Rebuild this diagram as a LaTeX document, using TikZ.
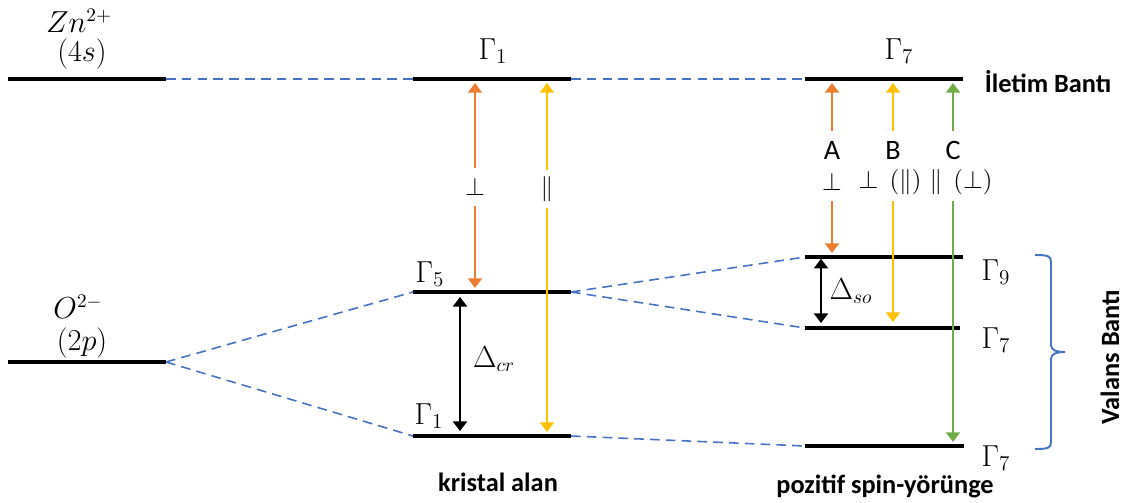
\documentclass[tikz,border=0pt]{standalone}
\usepackage[no-math]{fontspec}
\setmainfont{Carlito}
\usetikzlibrary{arrows.meta}
\definecolor{lnblue}{HTML}{4472C4}
\definecolor{orng}{HTML}{ED7D31}
\definecolor{ylw}{HTML}{FFC000}
\definecolor{grn}{HTML}{70AD47}
\tikzset{
  lvl/.style={line width=2.3pt},
  link/.style={draw=lnblue,line width=0.9pt,dash pattern=on 5.5pt off 3.5pt},
  tr/.style={->,line width=1.1pt,shorten >=2.3pt},
  dlt/.style={<->,line width=1.1pt,shorten >=2.8pt,shorten <=2.8pt},
  gl/.style={font=\fontsize{17}{20}\selectfont},
  ml/.style={font=\fontsize{16}{19}\selectfont},
  ab/.style={font=\fontsize{15}{18}\selectfont,minimum height=0.76cm,inner sep=0pt},
  bl/.style={font=\fontsize{15}{18}\selectfont\bfseries},
}
\begin{document}
\begin{tikzpicture}[x=0.02cm,y=-0.02cm,>={Triangle[length=5.5pt,width=8pt]}]
\useasboundingbox (0,0) rectangle (1125,503);
\coordinate (znL) at (8,79);    \coordinate (znR) at (166,79);
\coordinate (oL) at (8,362);    \coordinate (oR) at (166,362);
\coordinate (c1L) at (413,79);  \coordinate (c1R) at (571,79);
\coordinate (c5L) at (413,292); \coordinate (c5R) at (571,292);
\coordinate (cbL) at (413,436); \coordinate (cbR) at (571,436);
\coordinate (s7L) at (805,79);  \coordinate (s7R) at (963,79);
\coordinate (s9L) at (805,257); \coordinate (s9R) at (963,257);
\coordinate (smL) at (805,328); \coordinate (smR) at (960,328);
\coordinate (sbL) at (805,446); \coordinate (sbR) at (964,446);
\node[ml] (zn) at (79,21) {$Zn^{2+}$};
\node[ml] (zns) at (82,54) {$(4s)$};
\node[ml] (ox) at (78,307) {$O^{2-}$};
\node[ml] (oxp) at (82,343) {$(2p)$};
\node[gl] (g1t) at (493,51) {$\Gamma_1$};
\node[gl] (g5) at (430,274) {$\Gamma_5$};
\node[gl] (g1b) at (429,416) {$\Gamma_1$};
\node[gl] (g7t) at (899,51) {$\Gamma_7$};
\node[gl] (g9) at (996,272) {$\Gamma_9$};
\node[gl] (g7m) at (996,340) {$\Gamma_7$};
\node[gl] (g7b) at (996,458) {$\Gamma_7$};
\node[bl] (cb) at (1048,82) {İletim Bantı};
\node[bl,rotate=90] (vb) at (1110,357) {Valans Bantı};
\node[bl] (ka) at (498,482) {kristal alan};
\node[bl] (ps) at (885,486) {pozitif spin-yörünge};
\foreach \l in {zn,o,c1,c5,cb,s7,s9,sm,sb}
  \draw[lvl] (\l L) -- (\l R);
\draw[link] (znR) -- (c1L);
\draw[link] (c1R) -- (s7L);
\draw[link] (oR) -- (c5L);
\draw[link] (oR) -- (cbL);
\draw[link] (c5R) -- (s9L);
\draw[link] (c5R) -- (smL);
\draw[link] (cbR) -- (sbL);
\node[ab] (pa) at (475,187) {$\perp$};
\node[ab] (pb) at (547,189) {$\parallel$};
\draw[tr,orng] (pa) -- (pa |- c1L);
\draw[tr,orng] (pa) -- (pa |- c5L);
\draw[tr,ylw] (pb) -- (pb |- c1L);
\draw[tr,ylw] (pb) -- (pb |- cbL);
\node[ab,font=\fontsize{16}{19}\selectfont] (la) at (832,150) {A};
\node[ab,font=\fontsize{16}{19}\selectfont] (lb) at (893,150) {B};
\node[ab,font=\fontsize{16}{19}\selectfont] (lc) at (953,150) {C};
\node[ab] (qa) at (832,182) {$\perp$};
\node[ab] (qb) at (890,182) {$\perp\,(\parallel)$};
\node[ab] (qc) at (961,182) {$\parallel\,(\perp)$};
\draw[tr,orng] (la) -- (la |- s7L);
\draw[tr,ylw] (lb) -- (lb |- s7L);
\draw[tr,grn] (lc) -- (lc |- s7L);
\draw[tr,orng] (qa) -- (qa |- s9L);
\draw[tr,ylw,shorten >=3.4pt] (lb |- qb.south) -- (lb |- smL);
\draw[tr,grn] (lc |- qc.south) -- (lc |- sbL);
\coordinate (dc) at (460,0);
\coordinate (ds) at (821,0);
\draw[dlt] (dc |- c5L) -- (dc |- cbL);
\draw[dlt,shorten <=1pt] (ds |- s9L) -- (ds |- smL);
\node[ml] (dcr) at (494,359) {$\Delta_{cr}$};
\node[ml] (dso) at (851,291) {$\Delta_{so}$};
\coordinate (brT) at (1035,255);
\coordinate (brM) at (1065,352);
\coordinate (brB) at (1035,449);
\draw[lnblue,line width=1.1pt] (brT) .. controls (1048,255) and (1051,256) .. (1051,262)
  -- (1051,345) .. controls (1051,350) and (1056,352) .. (brM)
  .. controls (1056,352) and (1051,354) .. (1051,359)
  -- (1051,442) .. controls (1051,448) and (1048,449) .. (brB);
\end{tikzpicture}
\end{document}
